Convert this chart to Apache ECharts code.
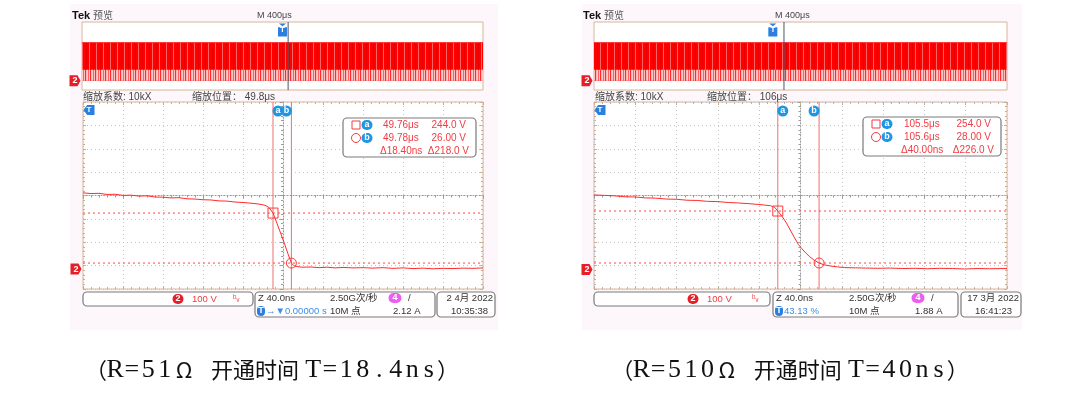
<!DOCTYPE html>
<html>
<head>
<meta charset="utf-8">
<script src="https://cdn.jsdelivr.net/npm/echarts@6/dist/echarts.min.js"></script>
<style>html,body{margin:0;padding:0;background:#fff}#main{width:1080px;height:400px}</style>
</head>
<body>
<div id="main"></div>
<script>
// 波形数据（时间 ns，电压 V）
var leftTraceT = [49570, 49578, 49586, 49594, 49602, 49610, 49618, 49626, 49634, 49642,
    49650, 49658, 49666, 49674, 49682, 49690, 49698, 49706, 49714, 49722,
    49730, 49738, 49746, 49752, 49756, 49760, 49764, 49768, 49772, 49775,
    49778.4, 49781, 49785, 49790, 49798, 49806, 49814, 49822, 49830, 49840,
    49850, 49860, 49870, 49880, 49890, 49900, 49910, 49920, 49930, 49940,
    49950, 49960, 49970];
var leftTraceV = [332, 329, 330, 325, 326, 321, 322, 318, 319, 314,
    313, 310, 311, 306, 305, 302, 301, 297, 296, 292,
    290, 287, 283, 278, 268, 244, 199, 152, 104, 66,
    26, 14, 10, 8, 9, 6, 8, 5, 7, 5,
    6, 4, 6, 3, 5, 2, 4, 1, 3, 2,
    4, 3, 5];
var rightTraceT = [105377, 105387, 105397, 105407, 105417, 105427, 105437, 105447, 105457, 105467,
    105477, 105487, 105497, 105507, 105517, 105527, 105535, 105542, 105548, 105552,
    105555, 105559, 105563, 105567, 105571, 105575, 105578, 105582, 105586, 105590,
    105595, 105600, 105606, 105613, 105620, 105630, 105640, 105652, 105664, 105676,
    105688, 105700, 105712, 105724, 105736, 105748, 105760, 105777];
var rightTraceV = [324, 322, 320, 316, 315, 311, 310, 306, 305, 301,
    300, 296, 295, 291, 289, 286, 283, 280, 277, 270,
    254, 232, 205, 172, 140, 108, 92, 72, 55, 41,
    28, 20, 15, 11, 8, 7, 6, 5, 6, 4,
    5, 3, 5, 4, 2, 4, 3, 4];

// 光标 a / b
var leftCursorT = [49760, 49778.4];
var leftCursorV = [244, 26];
var rightCursorT = [105555, 105595];
var rightCursorV = [254, 28];

// 预览窗口：脉冲串包络（V）和触发 / 缩放位置（格）
var overviewLevels = [330, 95];
var leftTrigDiv = [5.0, 5.14];
var rightTrigDiv = [4.33, 4.6];

// 文字
var leftReadout = ['49.76μs', '244.0 V', '49.78μs', '26.00 V', 'Δ18.40ns', 'Δ218.0 V'];
var rightReadout = ['105.5μs', '254.0 V', '105.6μs', '28.00 V', 'Δ40.00ns', 'Δ226.0 V'];
var leftStatus = ['100 V', 'Z 40.0ns', '2.50G次/秒', '→▼0.00000 s', '10M 点', '2.12 A', '2 4月 2022', '10:35:38', '49.8μs'];
var rightStatus = ['100 V', 'Z 40.0ns', '2.50G次/秒', '43.13 %', '10M 点', '1.88 A', '17 3月 2022', '16:41:23', '106μs'];
var captions = ['（R=51Ω  开通时间 T=18.4ns）', '（R=510Ω  开通时间 T=40ns）'];

var UI = '"Liberation Sans Narrow", "Liberation Sans", "Noto Sans CJK SC", sans-serif';
var RED = '#f03c44';
var BLUE = '#1e96e4';

function zip(a, b) { return a.map(function (v, i) { return [v, b[i]]; }); }

function stripes(cols) {
    var c = document.createElement('canvas');
    c.width = cols.length; c.height = 1;
    var ctx = c.getContext('2d');
    cols.forEach(function (col, i) { ctx.fillStyle = col; ctx.fillRect(i, 0, 1, 1); });
    return { image: c, repeat: 'repeat' };
}
var patTop = stripes(['#ff0000', '#ff0000', '#e60000', '#ff0000', '#ff0000', '#ff6464', '#ff0000']);
var patLow = stripes(['#ff2a2a', '#ffb4b4', '#ffcaca', '#ff6060', '#ffc0c0']);

function gridBox(l, t, w, h) {
    return { left: l, top: t, width: w, height: h, show: true, borderColor: '#d4b698', borderWidth: 1, backgroundColor: '#fff' };
}

var tickC = '#9a9a9a';
function divAxis(g, min, max, other, edgePos) {
    var a = {
        type: 'value', gridIndex: g, min: min, max: max, interval: 1,
        axisLabel: { show: false },
        axisTick: { show: true, inside: true, length: 3, lineStyle: { color: edgePos ? '#c9ad95' : tickC } },
        minorTick: { show: true, splitNumber: 5, length: 2, lineStyle: { color: edgePos ? '#c9ad95' : tickC } }
    };
    if (edgePos) {
        a.position = edgePos;
        a.axisLine = { show: false, onZero: false };
        a.splitLine = { show: false };
    } else {
        a.axisLine = { show: true, onZero: true, onZeroAxisIndex: other, lineStyle: { color: tickC, type: [1, 2] } };
        a.splitLine = { show: true, lineStyle: { color: '#c4c4c4', type: [1, 3] } };
    }
    return a;
}

function scopeAxes(g0, g1, tRange, vRange, xb, yb) {
    return {
        x: [
            { type: 'value', gridIndex: g0, min: 0, max: 10, show: false },
            { type: 'value', gridIndex: g1, min: tRange[0], max: tRange[1], show: false },
            divAxis(g1, -5, 5, yb + 2),
            divAxis(g1, -5, 5, null, 'top'),
            divAxis(g1, -5, 5, null, 'bottom')
        ],
        y: [
            { type: 'value', gridIndex: g0, min: -80, max: 510, show: false },
            { type: 'value', gridIndex: g1, min: vRange[0], max: vRange[1], show: false },
            divAxis(g1, -4, 4, xb + 2),
            divAxis(g1, -4, 4, null, 'left'),
            divAxis(g1, -4, 4, null, 'right')
        ]
    };
}

function lbl(s, size) {
    return { show: true, position: 'inside', formatter: s, color: '#fff', fontSize: size || 9, fontWeight: 'bold', fontFamily: UI };
}

// 光标线：用两点折线画，颜色稳定
function cursorLine(xb, yb, pts, color, type) {
    return {
        type: 'line', xAxisIndex: xb, yAxisIndex: yb, silent: true, z: 3,
        data: pts, symbol: 'none',
        lineStyle: { color: color, width: 1, type: type }
    };
}

function scopeSeries(xb, yb, trT, trV, cT, cV, trig, tR, vR) {
    var tMin = tR[0], tMax = tR[1], vMin = vR[0], vMax = vR[1];
    return [{
        type: 'line', xAxisIndex: xb, yAxisIndex: yb, silent: true,
        data: [[0, overviewLevels[0]], [10, overviewLevels[0]]],
        symbol: 'none', lineStyle: { color: '#ff1010', width: 1 },
        areaStyle: { color: patTop, opacity: 1 },
        markPoint: {
            silent: true,
            data: [
                { coord: [trig[0], 510], symbol: 'path://M1,0H9L5,3ZM0,4H10V14H0Z', symbolSize: [9, 13], symbolOffset: [0, 8], itemStyle: { color: '#2a7fe0' }, label: lbl('T', 8) },
                { coord: [0, 0], symbol: 'path://M0,0H8L11,5L8,10H0Z', symbolSize: [11, 11], symbolOffset: [-7, 0], itemStyle: { color: '#e61e28' }, label: lbl('2') }
            ]
        }
    }, {
        type: 'line', xAxisIndex: xb, yAxisIndex: yb, silent: true,
        data: [[0, overviewLevels[1]], [10, overviewLevels[1]]],
        symbol: 'none', lineStyle: { width: 0 },
        areaStyle: { color: patLow, opacity: 1 }
    },
    cursorLine(xb, yb, [[trig[1], -80], [trig[1], 510]], '#4b5563', 'solid'),
    cursorLine(xb + 1, yb + 1, [[cT[0], vMin], [cT[0], vMax]], '#f06e6e', 'solid'),
    cursorLine(xb + 1, yb + 1, [[cT[1], vMin], [cT[1], vMax]], '#f06e6e', 'solid'),
    cursorLine(xb + 1, yb + 1, [[tMin, cV[0]], [tMax, cV[0]]], '#ff4646', [2, 3]),
    cursorLine(xb + 1, yb + 1, [[tMin, cV[1]], [tMax, cV[1]]], '#ff4646', [2, 3]),
    {
        type: 'line', xAxisIndex: xb + 1, yAxisIndex: yb + 1, silent: true, clip: false, z: 4,
        data: zip(trT, trV), symbol: 'none',
        lineStyle: { color: '#ff2b2b', width: 1 },
        markPoint: {
            silent: true,
            data: [
                { coord: [cT[0], cV[0]], symbol: 'rect', symbolSize: 10, itemStyle: { color: 'rgba(0,0,0,0)', borderColor: '#ff3a3a', borderWidth: 1 }, label: { show: false } },
                { coord: [cT[1], cV[1]], symbol: 'circle', symbolSize: 10, itemStyle: { color: 'rgba(0,0,0,0)', borderColor: '#ff3a3a', borderWidth: 1 }, label: { show: false } },
                { coord: [cT[0], vMax], symbol: 'circle', symbolSize: 11, symbolOffset: [5, 9], itemStyle: { color: BLUE }, label: lbl('a') },
                { coord: [cT[1], vMax], symbol: 'circle', symbolSize: 11, symbolOffset: [-5, 9], itemStyle: { color: BLUE }, label: lbl('b') },
                { coord: [tMin, vMax], symbol: 'path://M0,5L4,0H12V10H4Z', symbolSize: [11, 10], symbolOffset: [6, 8], itemStyle: { color: '#2a7fe0' }, label: lbl('T', 8) },
                { coord: [tMin, 0], symbol: 'path://M0,0H8L11,5L8,10H0Z', symbolSize: [11, 11], symbolOffset: [-7, 0], itemStyle: { color: '#e61e28' }, label: lbl('2') }
            ]
        }
    }];
}

// 图形文字
function T(x, y, s, o) {
    o = o || {};
    var al = o.align || 'left';
    return {
        type: 'text', x: x, y: y, z: 10, silent: true,
        style: {
            text: s, font: (o.w || 'normal') + ' ' + (o.size || 10) + 'px ' + (o.family || UI),
            fill: o.color || '#222', align: al, verticalAlign: 'middle', textAlign: al, textVerticalAlign: 'middle'
        }
    };
}
function box(x, y, w, h) {
    return { type: 'rect', z: 9, silent: true, shape: { x: x, y: y, width: w, height: h, r: 4 }, style: { fill: '#fff', stroke: '#7a7a7a', lineWidth: 1.2 } };
}
function badge(cx, cy, s, color, w) {
    w = w || 11;
    return [
        { type: 'rect', z: 10, silent: true, shape: { x: cx - w / 2, y: cy - 5, width: w, height: 10, r: 5 }, style: { fill: color } },
        T(cx, cy, s, { color: '#fff', w: 'bold', size: 9, align: 'center' })
    ];
}

// 标题：宋体式等宽排版，每个字符一个格
function caption(cx, s) {
    var txt = '';
    var chars = s.split('');
    chars.forEach(function (c, i) {
        if (c === ' ') txt += (chars[i + 1] === 'T' ? '{s1| }' : '{s2| }');
        else if (c.charCodeAt(0) >= 0x3A9) txt += '{w|' + c + '}';
        else txt += '{n|' + c + '}';
    });
    return {
        type: 'text', x: cx, y: 370, z: 10, silent: true,
        style: {
            legacy: false, text: txt, align: 'center', verticalAlign: 'middle',
            font: '22px "Liberation Serif"', fill: '#111',
            rich: {
                n: { width: 16.5, align: 'center', font: '26px "Liberation Serif", serif', fill: '#111' },
                w: { width: 22, align: 'center', font: '22px "Noto Sans CJK SC", serif', fill: '#111' },
                s1: { width: 6, font: '22px "Liberation Serif"' },
                s2: { width: 8, font: '22px "Liberation Serif"' }
            }
        }
    };
}

function scopeText(p) {
    var g = [];
    g.push({ type: 'rect', z: -10, silent: true, shape: { x: p.px, y: 4, width: p.pw, height: 326 }, style: { fill: '#fdf7fb' } });
    g.push(T(p.tek, 16, 'Tek', { w: 'bold', size: 11, color: '#111' }));
    g.push(T(p.tek + 21, 16, '预览', { size: 10, color: '#555' }));
    g.push(T(p.m, 16, 'M 400μs', { size: 9, color: '#444' }));
    g.push(T(p.gl, 97, '缩放系数: 10kX', { size: 10, color: '#444' }));
    g.push(T(p.zp, 97, '缩放位置： ' + p.st[8], { size: 10, color: '#444' }));
    // 读数框
    var r = p.rd;
    g.push(box(r.x, r.y, r.w, 39));
    var ys = [r.y + 7, r.y + 20, r.y + 33];
    g.push({ type: 'rect', z: 10, silent: true, shape: { x: r.sx - 4, y: ys[0] - 4, width: 8, height: 8 }, style: { fill: 'none', stroke: RED, lineWidth: 1 } });
    g.push({ type: 'circle', z: 10, silent: true, shape: { cx: r.sx, cy: ys[1], r: 4.5 }, style: { fill: 'none', stroke: RED, lineWidth: 1 } });
    g = g.concat(badge(r.sx + 11, ys[0], 'a', BLUE), badge(r.sx + 11, ys[1], 'b', BLUE));
    g.push(T(r.tx, ys[0], p.rv[0], { color: RED }));
    g.push(T(r.vx, ys[0], p.rv[1], { color: RED, align: 'right' }));
    g.push(T(r.tx, ys[1], p.rv[2], { color: RED }));
    g.push(T(r.vx, ys[1], p.rv[3], { color: RED, align: 'right' }));
    g.push(T(r.tx - 3, ys[2], p.rv[4], { color: RED }));
    g.push(T(r.vx + 3, ys[2], p.rv[5], { color: RED, align: 'right' }));
    // 状态栏
    var s = p.sb;
    g.push(box(s.b1, 292, s.w1, 14));
    g = g.concat(badge(s.ch, 299, '2', '#e61e28'));
    g.push(T(s.ch + 14, 299, p.st[0], { color: RED, size: 9.5 }));
    g.push(T(s.bw, 299, 'ᵇᵥ', { color: RED, size: 9 }));
    g.push(box(s.b2, 292, s.w2, 25));
    g.push(T(s.b2 + 3, 298, p.st[1], { size: 9.5, color: '#333' }));
    g.push(T(s.c2, 298, p.st[2], { size: 9.5, color: '#333' }));
    g = g.concat(badge(s.c4, 298, '4', '#ee5cf0', 13));
    g.push(T(s.c4 + 13, 298, '/', { size: 9.5, color: '#333' }));
    g = g.concat(badge(s.b2 + 6, 311, 'T', '#2a7fe0', 8));
    g.push(T(s.b2 + 11, 311, p.st[3], { size: 9.5, color: '#3d8ce8' }));
    g.push(T(s.c2, 311, p.st[4], { size: 9.5, color: '#333' }));
    g.push(T(s.c3, 311, p.st[5], { size: 9.5, color: '#333' }));
    g.push(box(s.b3, 292, s.w3, 25));
    g.push(T(s.b3 + s.w3 - 2, 298, p.st[6], { size: 9.5, color: '#333', align: 'right' }));
    g.push(T(s.b3 + 14, 311, p.st[7], { size: 9.5, color: '#333' }));
    g.push(caption(p.cap[0], p.cap[1]));
    return g;
}

var leftT = [49570, 49970], leftV = [-87, 728];
var rightT = [105377, 105777], rightV = [-85, 728];
var axL = scopeAxes(0, 1, leftT, leftV, 0, 0);
var axR = scopeAxes(2, 3, rightT, rightV, 5, 5);

var graphics = scopeText({
    px: 70, pw: 428, tek: 72, m: 257, gl: 83, zp: 192, st: leftStatus, rv: leftReadout,
    rd: { x: 343, y: 118, w: 133, sx: 356, tx: 383, vx: 466 },
    sb: { b1: 83, w1: 170, ch: 178, bw: 233, b2: 255, w2: 180, c2: 330, c4: 395, c3: 393, b3: 437, w3: 58 },
    cap: [272, captions[0]]
}).concat(scopeText({
    px: 582, pw: 440, tek: 583, m: 775, gl: 595, zp: 707, st: rightStatus, rv: rightReadout,
    rd: { x: 863, y: 117, w: 138, sx: 876, tx: 904, vx: 991 },
    sb: { b1: 594, w1: 176, ch: 693, bw: 752, b2: 773, w2: 185, c2: 849, c4: 918, c3: 915, b3: 961, w3: 60 },
    cap: [790, captions[1]]
}));

var myChart = echarts.init(document.getElementById('main'));
var option = {
    animation: false,
    backgroundColor: '#fff',
    grid: [
        gridBox(82, 22, 401, 68),
        gridBox(83, 102, 400, 187),
        gridBox(594, 22, 413, 68),
        gridBox(594, 102, 413, 187)
    ],
    xAxis: axL.x.concat(axR.x),
    yAxis: axL.y.concat(axR.y),
    series: scopeSeries(0, 0, leftTraceT, leftTraceV, leftCursorT, leftCursorV, leftTrigDiv, leftT, leftV)
        .concat(scopeSeries(5, 5, rightTraceT, rightTraceV, rightCursorT, rightCursorV, rightTrigDiv, rightT, rightV)),
    graphic: { elements: graphics }
};
myChart.setOption(option);
</script>
</body>
</html>
